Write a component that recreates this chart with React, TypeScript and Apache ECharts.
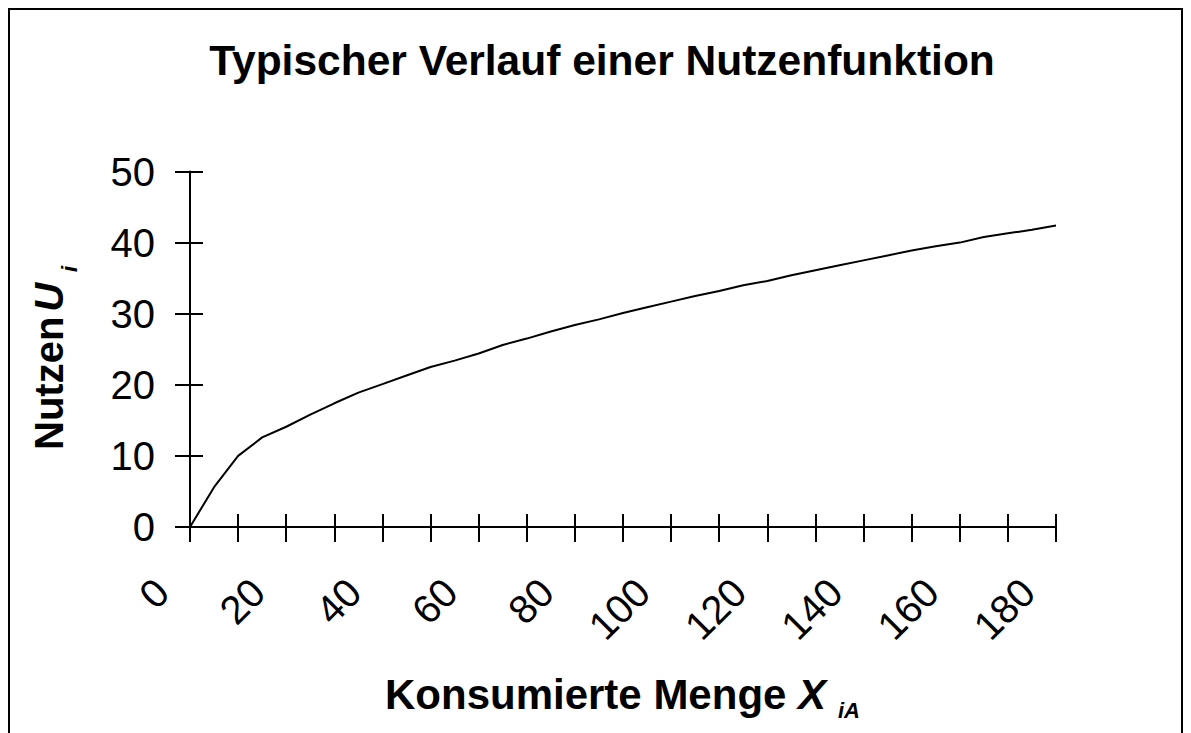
import React, { useEffect, useRef } from "react";
import * as echarts from "echarts";

// Data
const consumedQuantity: number[] = [
  0, 5, 10, 15, 20, 25, 30, 35, 40, 45, 50, 55, 60, 65, 70, 75, 80, 85, 90,
  95, 100, 105, 110, 115, 120, 125, 130, 135, 140, 145, 150, 155, 160, 165,
  170, 175, 180,
];
const utility: number[] = [
  0, 5.6, 10.0, 12.6, 14.1, 15.8, 17.4, 18.9, 20.1, 21.3, 22.5, 23.4, 24.4,
  25.6, 26.5, 27.5, 28.4, 29.2, 30.1, 30.9, 31.7, 32.5, 33.2, 34.0, 34.6,
  35.4, 36.1, 36.8, 37.5, 38.2, 38.9, 39.5, 40.0, 40.8, 41.3, 41.8, 42.4,
];
const xLabelValues: number[] = [0, 20, 40, 60, 80, 100, 120, 140, 160, 180];
const yLabelValues: number[] = [0, 10, 20, 30, 40, 50];

const titleText = "Typischer Verlauf einer Nutzenfunktion";
const xNameMain = "Konsumierte Menge ";
const xNameVar = "X";
const xNameSub = "iA";
const yNameMain = "Nutzen";
const yNameVar = "U";
const yNameSub = "i";

const FONT = "'Liberation Sans', Arial, sans-serif";

export default function App() {
  const ref = useRef<HTMLDivElement>(null);

  useEffect(() => {
    if (!ref.current) return;
    const chart = echarts.init(ref.current, undefined, { renderer: "svg" });
    const seriesData = consumedQuantity.map((x, i) => [x, utility[i]]);
    const grid = { left: 182, top: 163.5, width: 866, height: 355.5 };

    const baseX = {
      type: "value" as const,
      min: 0,
      max: 180,
      interval: 10,
      splitLine: { show: false },
    };
    const baseY = {
      type: "value" as const,
      min: 0,
      max: 50,
      interval: 10,
      splitLine: { show: false },
    };

    chart.setOption({
      animation: false,
      backgroundColor: "#ffffff",
      grid: { ...grid, containLabel: false },
      xAxis: [
        {
          ...baseX,
          position: "bottom",
          axisLine: { show: true, onZero: false, lineStyle: { color: "#000", width: 2 } },
          axisTick: { show: true, inside: false, length: 15, lineStyle: { color: "#000", width: 2 } },
          axisLabel: {
            show: true,
            rotate: 45,
            margin: 30,
            padding: [0, 40, 0, 0],
            fontSize: 40,
            fontFamily: FONT,
            color: "#000",
            hideOverlap: false,
            formatter: (v: number) => (xLabelValues.includes(v) ? String(v) : ""),
          },
        },
        {
          ...baseX,
          position: "bottom",
          axisLine: { show: false, onZero: false },
          axisTick: { show: true, inside: true, length: 13, lineStyle: { color: "#000", width: 2 } },
          axisLabel: { show: false },
        },
      ],
      yAxis: [
        {
          ...baseY,
          position: "left",
          axisLine: { show: true, onZero: false, lineStyle: { color: "#000", width: 2 } },
          axisTick: { show: true, inside: false, length: 15, lineStyle: { color: "#000", width: 2 } },
          axisLabel: {
            show: true,
            margin: 35,
            fontSize: 40,
            fontFamily: FONT,
            color: "#000",
            formatter: (v: number) => (yLabelValues.includes(v) ? String(v) : ""),
          },
        },
        {
          ...baseY,
          position: "left",
          offset: 0,
          axisLine: { show: false, onZero: false },
          axisTick: { show: true, inside: true, length: 13, lineStyle: { color: "#000", width: 2 } },
          axisLabel: { show: false },
        },
      ],
      series: [
        {
          type: "line",
          xAxisIndex: 0,
          yAxisIndex: 0,
          data: seriesData,
          showSymbol: false,
          symbol: "none",
          smooth: false,
          lineStyle: { color: "#000", width: 2 },
        },
      ],
      graphic: [
        {
          type: "rect",
          shape: { x: 1, y: 1, width: 1173, height: 800 },
          style: { fill: "none", stroke: "#000", lineWidth: 2 },
          silent: true,
        },
        {
          type: "text",
          x: 594,
          y: 52,
          style: {
            text: titleText,
            fontSize: 42.5,
            fontWeight: "bold",
            fontFamily: FONT,
            fill: "#000",
            align: "center",
            verticalAlign: "middle",
          },
        },
        {
          type: "text",
          x: 377,
          y: 686,
          style: {
            text: `{n|${xNameMain}}{v|${xNameVar}}`,
            rich: {
              n: { fontSize: 42, fontWeight: "bold", fontFamily: FONT, fill: "#000" },
              v: { fontSize: 42, fontWeight: "bold", fontStyle: "italic", fontFamily: FONT, fill: "#000" },
            },
            align: "left",
            verticalAlign: "middle",
          },
        },
        {
          type: "text",
          x: 830,
          y: 702,
          style: {
            text: xNameSub,
            fontSize: 22,
            fontWeight: "bold",
            fontStyle: "italic",
            fontFamily: FONT,
            fill: "#000",
            align: "left",
            verticalAlign: "middle",
          },
        },
        {
          type: "text",
          x: 41,
          y: 442,
          rotation: Math.PI / 2,
          style: {
            text: `{n|${yNameMain}}{v|${yNameVar}}`,
            rich: {
              n: { fontSize: 40, fontWeight: "bold", fontFamily: FONT, fill: "#000" },
              v: {
                fontSize: 40,
                fontWeight: "bold",
                fontStyle: "italic",
                fontFamily: FONT,
                fill: "#000",
                padding: [0, 0, 0, 5],
              },
            },
            align: "left",
            verticalAlign: "middle",
          },
        },
        {
          type: "text",
          x: 61,
          y: 264,
          rotation: Math.PI / 2,
          style: {
            text: yNameSub,
            fontSize: 22,
            fontWeight: "bold",
            fontStyle: "italic",
            fontFamily: FONT,
            fill: "#000",
            align: "left",
            verticalAlign: "middle",
          },
        },
      ],
    });

    return () => chart.dispose();
  }, []);

  return <div ref={ref} style={{ width: 1175, height: 745 }} />;
}
